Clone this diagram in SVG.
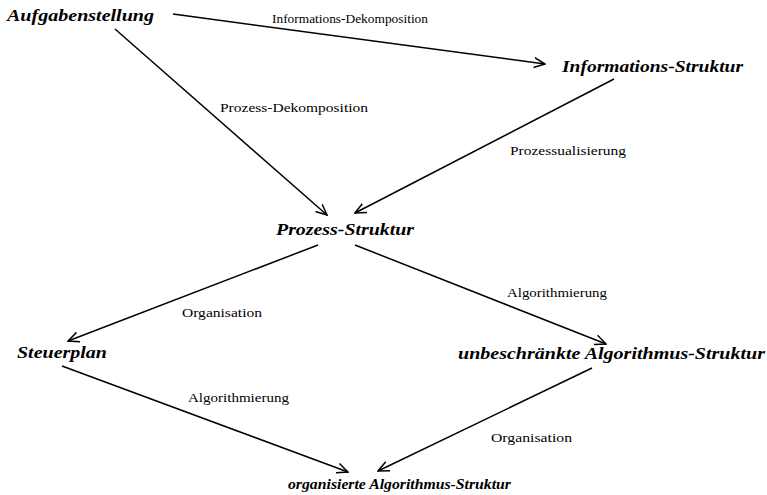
<svg xmlns="http://www.w3.org/2000/svg" width="767" height="495" viewBox="0 0 767 495">
<style>
.n{font-family:'Liberation Serif','DejaVu Serif',serif;font-weight:bold;font-style:italic;font-size:17px;fill:#000}
.s{font-size:15.5px}
.l{font-family:'Liberation Serif','DejaVu Serif',serif;font-size:13px;fill:#000}
.e{stroke:#000;stroke-width:1.5;fill:none;marker-end:url(#a)}
</style>
<defs>
<marker id="a" viewBox="0 0 12 12" refX="11" refY="6" markerWidth="12" markerHeight="12" markerUnits="userSpaceOnUse" orient="auto">
<path d="M0,1 L11,6 L0,11" fill="none" stroke="#000" stroke-width="1.5"/>
</marker>
</defs>
<rect width="767" height="495" fill="#fff"/>
<g id="connectors">
<line class="e" x1="173" y1="14" x2="545" y2="64"/>
<line class="e" x1="115" y1="29" x2="327" y2="215"/>
<line class="e" x1="614" y1="79" x2="355" y2="213"/>
<line class="e" x1="318" y1="245" x2="68" y2="341"/>
<line class="e" x1="355" y1="245" x2="606" y2="344"/>
<line class="e" x1="62" y1="366" x2="348" y2="472"/>
<line class="e" x1="592" y1="368" x2="378" y2="471"/>
<text class="l" x="272" y="23" textLength="156" lengthAdjust="spacingAndGlyphs">Informations-Dekomposition</text>
<text class="l" x="220" y="112" textLength="148" lengthAdjust="spacingAndGlyphs">Prozess-Dekomposition</text>
<text class="l" x="510" y="155" textLength="116" lengthAdjust="spacingAndGlyphs">Prozessualisierung</text>
<text class="l" x="182" y="317" textLength="80" lengthAdjust="spacingAndGlyphs">Organisation</text>
<text class="l" x="507" y="297" textLength="100" lengthAdjust="spacingAndGlyphs">Algorithmierung</text>
<text class="l" x="188" y="402" textLength="101" lengthAdjust="spacingAndGlyphs">Algorithmierung</text>
<text class="l" x="491" y="442" textLength="81" lengthAdjust="spacingAndGlyphs">Organisation</text>
</g>
<g id="aufgabenstellung"><text class="n" x="7" y="21" textLength="147" lengthAdjust="spacingAndGlyphs">Aufgabenstellung</text></g>
<g id="informations-struktur"><text class="n" x="562" y="72" textLength="181" lengthAdjust="spacingAndGlyphs">Informations-Struktur</text></g>
<g id="prozess-struktur"><text class="n" x="276" y="235" textLength="138" lengthAdjust="spacingAndGlyphs">Prozess-Struktur</text></g>
<g id="steuerplan"><text class="n" x="17" y="358" textLength="90" lengthAdjust="spacingAndGlyphs">Steuerplan</text></g>
<g id="unbeschraenkte"><text class="n" x="458" y="359" textLength="307" lengthAdjust="spacingAndGlyphs">unbeschränkte Algorithmus-Struktur</text></g>
<g id="organisierte"><text class="n s" x="288" y="489" textLength="223" lengthAdjust="spacingAndGlyphs">organisierte Algorithmus-Struktur</text></g>
</svg>
